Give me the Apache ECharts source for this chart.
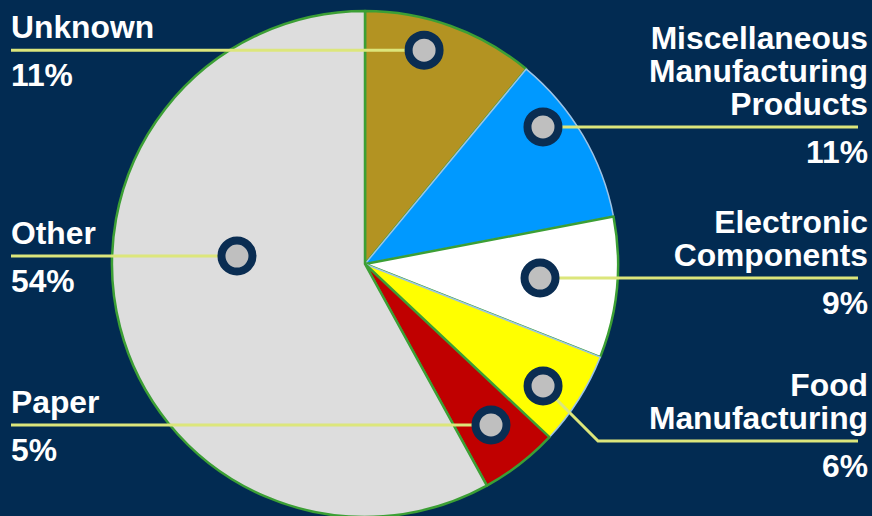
<!DOCTYPE html>
<html>
<head>
<meta charset="utf-8">
<script src="https://cdn.jsdelivr.net/npm/echarts@6/dist/echarts.min.js"></script>
<style>
html,body{margin:0;padding:0;background:#022B52;}
#chart{width:872px;height:516px;}
</style>
</head>
<body>
<div id="chart"></div>
<script>
// ---- data ----
const categories = ['Unknown', 'Miscellaneous Manufacturing Products', 'Electronic Components', 'Food Manufacturing', 'Paper', 'Other'];
const categoryLines = [['Unknown'], ['Miscellaneous', 'Manufacturing', 'Products'], ['Electronic', 'Components'], ['Food', 'Manufacturing'], ['Paper'], ['Other']];
const values = [11, 11, 9, 6, 5, 58];
const percentLabels = ['11%', '11%', '9%', '6%', '5%', '54%'];

// ---- layout / style ----
const CX = 365, CY = 264, R = 253;
const colors = ['#B39322', '#0099FF', '#FFFFFF', '#FFFF00', '#C00000', '#DDDDDD'];
const borderColors = ['#3C9F35', '#9DC3E6', '#3C9F35', '#9DC3E6', '#3C9F35', '#3C9F35'];
const borderWidths = [2.5, 1.5, 2.5, 1.5, 2.5, 2.5];
const anchorAngleFrac = [0.39, 0.323, 0.475, 0.593, 0.486, 0.586];
const anchorRadiusFrac = [0.877, 0.888, 0.694, 0.853, 0.808, 0.507];
const labelSide = ['left', 'right', 'right', 'right', 'left', 'left'];
const bendDrop = [0, 0, 0, 55, 0, 0];
const FONT = '"Liberation Sans", Arial, sans-serif';

function anchor(i) {
  const total = values.reduce((a, b) => a + b, 0);
  let start = 0;
  for (let k = 0; k < i; k++) start += values[k];
  const deg = (start + values[i] * anchorAngleFrac[i]) / total * 360;
  const rad = deg * Math.PI / 180;
  const r = R * anchorRadiusFrac[i];
  return [CX + r * Math.sin(rad), CY - r * Math.cos(rad)];
}
function lineEndY(i) { return anchor(i)[1] + bendDrop[i]; }

const txt = (align, lh) => ({fontSize: 31.8, fontWeight: 'bold', color: '#FFFFFF', fontFamily: FONT, lineHeight: lh, align: align});

const chart = echarts.init(document.getElementById('chart'), null, {renderer: 'svg'});
chart.setOption({
  backgroundColor: '#022B52',
  animation: false,
  series: [
    {
      type: 'pie',
      center: [CX, CY],
      radius: R,
      startAngle: 90,
      clockwise: true,
      avoidLabelOverlap: false,
      silent: true,
      data: categories.map((c, i) => ({
        name: c, value: values[i],
        itemStyle: {color: colors[i], borderColor: borderColors[i], borderWidth: borderWidths[i]}
      })),
      label: {
        show: true,
        position: 'outer',
        alignTo: 'none',
        overflow: 'none',
        formatter: p => {
          const s = labelSide[p.dataIndex] === 'left' ? 'l' : 'r';
          return categoryLines[p.dataIndex].map(t => '{n' + s + '|' + t + '}').join('\n') +
            '\n{p' + s + '|' + percentLabels[p.dataIndex] + '}';
        },
        rich: {
          nl: txt('left', 33), nr: txt('right', 33),
          pl: txt('left', 63), pr: txt('right', 63)
        }
      },
      labelLine: {show: false},
      labelLayout: function (p) {
        const i = p.dataIndex;
        const lineY = lineEndY(i);
        const n = categoryLines[i].length;
        const top = lineY - 23 - 16.5 - 33 * (n - 1);
        const left = labelSide[i] === 'left';
        return {x: left ? 11 : 868, y: top, align: left ? 'left' : 'right', verticalAlign: 'top'};
      }
    },
    {
      type: 'pie',
      z: 3,
      center: [CX, CY],
      radius: R,
      startAngle: 90,
      clockwise: true,
      silent: true,
      avoidLabelOverlap: false,
      data: categories.map((c, i) => ({name: c, value: values[i]})),
      itemStyle: {color: 'rgba(0,0,0,0)', borderWidth: 0},
      label: {
        show: true,
        position: 'outer',
        alignTo: 'none',
        overflow: 'none',
        formatter: '{d|}',
        rich: {
          d: {width: 23, height: 23, borderRadius: 11.5, backgroundColor: '#BFBFBF', borderColor: '#0A2D52', borderWidth: 8}
        }
      },
      labelLine: {show: true, length: 10, length2: 10, smooth: false, lineStyle: {color: '#DCE67B', width: 3}},
      labelLayout: function (p) {
        const i = p.dataIndex;
        const a = anchor(i);
        const lineY = lineEndY(i);
        const left = labelSide[i] === 'left';
        const endX = left ? 11 : 858;
        const mid = bendDrop[i] ? [a[0] + bendDrop[i], lineY] : [(a[0] + endX) / 2, lineY];
        return {
          x: a[0], y: a[1], align: 'center', verticalAlign: 'middle',
          labelLinePoints: [[a[0], a[1]], mid, [endX, lineY]]
        };
      }
    }
  ]
});
</script>
</body>
</html>
